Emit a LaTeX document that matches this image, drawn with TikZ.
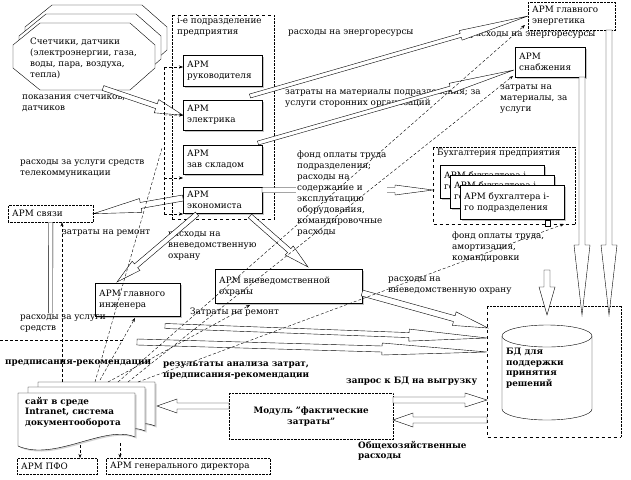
\documentclass[tikz,border=0pt]{standalone}
\usepackage{fontspec}
\setmainfont{DejaVu Serif}
\usetikzlibrary{calc,arrows.meta,shadows}

\tikzset{
  bw/.store in=\bkw, bh/.store in=\bkh, bl/.store in=\bkl,
  bw=2.5pt, bh=6pt, bl=25pt,
  blk/.style={draw, fill=white, line join=miter,
    to path={($(\tikztotarget)!\bkl!(\tikztostart)$) coordinate (hb)
      ($(\tikztostart)!\bkw!90:(\tikztotarget)$)
      -- ($(hb)!\bkw!90:(\tikztotarget)$)
      -- ($(hb)!\bkh!90:(\tikztotarget)$)
      -- (\tikztotarget)
      -- ($(hb)!\bkh!-90:(\tikztotarget)$)
      -- ($(hb)!\bkw!-90:(\tikztotarget)$)
      -- ($(\tikztostart)!\bkw!-90:(\tikztotarget)$)
      -- cycle}},
}

\begin{document}
\begin{tikzpicture}[x=1pt, y=-1pt,
    every node/.style={font=\fontsize{8.8}{11}\selectfont},
    arm/.style={draw, fill=white, anchor=north west, align=left,
      inner xsep=4pt, inner ysep=1pt},
    armS/.style={arm, drop shadow={shadow xshift=1.5pt,
        shadow yshift=-1.5pt, fill=black!45}},
    armD/.style={arm, densely dotted},
    lbl/.style={anchor=north west, align=left, inner sep=0pt},
    blbl/.style={lbl, font=\fontsize{8.8}{10.5}\selectfont\bfseries},
    rec/.style={dash pattern=on 3pt off 2pt,
      -{Stealth[length=4pt, width=3pt]}},
    recl/.style={dash pattern=on 3pt off 2pt}]
  \useasboundingbox (0,0) rectangle (631,479);

  % counters and sensors
  \foreach \dx/\dy in {12/-18, 6/-9, 0/0}{
    \draw[fill=white, shift={(\dx,\dy)}] (40,23) -- (130,23) -- (155,45)
      -- (155,68) -- (130,90) -- (40,90) -- (13,68) -- (13,45) -- cycle;
  }
  \node[lbl] (cnt) at (30,38) {Счетчики, датчики\\(электроэнергии, газа,\\воды, пара, воздуха,\\тепла)};
  \coordinate (cnt-out) at (103,88);

  % i-th department
  \node[anchor=north west, minimum width=102pt, minimum height=204pt,
        inner sep=0pt] (podr) at (172,15) {};
  \draw[dashed] (podr.north west) -- (podr.north east)
                (podr.south west) -- (podr.south east);
  \draw[densely dotted] (podr.north west) -- (podr.south west)
                        (podr.north east) -- (podr.south east);
  \node[lbl] (podr-t) at (177,17) {i-е подразделение\\предприятия};
  \node[armS, text width=71pt, minimum height=31pt] (ruk) at (183,55) {АРМ\\руководителя};
  \node[armS, text width=71pt, minimum height=30pt] (elek) at (183,100) {АРМ\\электрика};
  \node[armS, text width=71pt, minimum height=29pt] (sklad) at (183,145) {АРМ\\зав складом};
  \node[armS, text width=71pt, minimum height=26pt] (econ) at (183,187) {АРМ\\экономиста};

  % upper right
  \node[armD, text width=79pt, minimum height=28pt] (energ) at (528,2) {АРМ главного\\энергетика};
  \node[armS, text width=62pt, minimum height=30pt] (snab) at (515,47) {АРМ\\снабжения};

  % accounting
  \node[anchor=north west, minimum width=142pt, minimum height=77pt,
        inner sep=0pt] (buh) at (433,147) {};
  \draw[dashed] (buh.north west) -- (buh.south west) -- (buh.south east);
  \draw[densely dotted] (buh.north west) -- (buh.north east) -- (buh.south east);
  \node[lbl] (buh-t) at (437,149) {Бухгалтерия предприятия};
  \node[armS, text width=96pt, minimum height=33pt] (b1) at (440,165) {АРМ бухгалтера i-\\го подразделения};
  \node[armS, text width=96pt, minimum height=33pt] (b2) at (450,175) {АРМ бухгалтера i-\\го подразделения};
  \node[armS, text width=96pt, minimum height=34pt] (b3) at (460,185) {АРМ бухгалтера i-\\го подразделения};
  \draw[fill=white] (545,220) rectangle (550,226);

  % middle
  \node[armD, text width=77pt, minimum height=17pt] (svyaz) at (8,205) {АРМ связи};
  \node[armS, text width=77pt, minimum height=33pt] (inzh) at (95,283) {АРМ главного\\инженера};
  \node[armS, text width=139pt, minimum height=34pt] (okhr) at (215,269) {АРМ вневедомственной\\охраны};

  % database
  \node[anchor=north west, minimum width=134pt, minimum height=131pt,
        inner sep=0pt] (bdc) at (487,306) {};
  \draw[dashed] (bdc.north west) -- (bdc.south west) -- (bdc.south east);
  \draw[densely dotted] (bdc.north west) -- (bdc.north east) -- (bdc.south east);
  \draw[fill=white] (502,336) -- (502,409)
    arc[start angle=180, end angle=360, x radius=45pt, y radius=11pt] -- (592,336);
  \draw[fill=white] (547,336) ellipse [x radius=45pt, y radius=11pt];
  \node[blbl] (bdt) at (506,348) {БД для\\поддержки\\принятия\\решений};

  % site and module
  \foreach \dx/\dy in {20/-11, 10/-6, 0/0}{
    \draw[fill=white, shift={(\dx,\dy)},
          drop shadow={shadow xshift=1.5pt, shadow yshift=-1.5pt, fill=black!35}]
      (18,393) -- (135,393) -- (135,437)
      .. controls (105,424) and (55,462) .. (18,446) -- cycle;
  }
  \node[blbl] (site) at (25,397) {сайт в среде\\Intranet, система\\документооборота};
  \node[armD, text width=156pt, minimum height=46pt, align=center,
        font=\fontsize{8.8}{11}\selectfont\bfseries] (modul) at (229,393) {Модуль \symbol{34}фактические\\затраты\symbol{34}};
  \node[armD, text width=72pt, minimum height=16pt] (pfo) at (17,458) {АРМ ПФО};
  \node[armD, text width=156pt, minimum height=16pt] (gendir) at (106,458) {АРМ генерального директора};

  % labels
  \node[lbl] (l1) at (22,95) {показания счетчиков,\\датчиков};
  \node[lbl] (l2) at (288,30) {расходы на энергоресурсы};
  \node[lbl] (l3) at (470,32) {расходы на энергоресурсы};
  \node[lbl] (l4) at (285,90) {затраты на материалы подразделения; за\\услуги сторонних организаций};
  \node[lbl] (l5) at (500,85) {затраты на\\материалы, за\\услуги};
  \node[lbl] (l6) at (20,160) {расходы за услуги средств\\телекоммуникации};
  \node[lbl] (l8) at (62,230) {затраты на ремонт};
  \node[lbl] (l9) at (168,232) {расходы на\\вневедомственную\\охрану};
  \node[lbl] (l10) at (452,232) {фонд оплаты труда,\\амортизация,\\командировки};
  \node[lbl] (l11) at (388,277) {расходы на\\вневедомственную охрану};
  \node[lbl] (l12) at (190,308) {Затраты на ремонт};
  \node[lbl] (l13) at (20,315) {расходы за услуги\\средств};
  \node[blbl] (l14) at (5,360) {предписания-рекомендации};
  \node[blbl] (l15) at (163,362) {результаты анализа затрат,\\предписания-рекомендации};
  \node[blbl] (l16) at (346,377) {запрос к БД на выгрузку};
  \node[blbl] (l17) at (358,441) {Общехозяйственные\\расходы};

  % cost flows
  \coordinate (ruk-o) at (250,96);
  \coordinate (energ-i) at (528,16);
  \coordinate (sklad-o) at (258,143);
  \coordinate (snab-i) at (514,70);
  \coordinate (econ-r) at (262,190);
  \coordinate (buh-i) at (433,190);
  \coordinate (econ-l) at (183,198);
  \coordinate (econ-b1) at (197,214);
  \coordinate (inzh-i) at (117,282);
  \coordinate (econ-b2) at (250,216);
  \coordinate (okhr-i) at (308,267);
  \coordinate (energ-o) at (609,30);
  \coordinate (snab-o) at (582,77);
  \coordinate (buh-o) at (547,270);
  \coordinate (bd-e) at (609,315);
  \coordinate (bd-s) at (582,315);
  \coordinate (bd-b) at (547,315);
  \coordinate (okhr-o) at (362,293);
  \coordinate (bd-o) at (488,328);
  \coordinate (inzh-o) at (165,326);
  \coordinate (bd-i) at (487,338);
  \coordinate (sv-o) at (137,342);
  \coordinate (bd-v) at (487,352);
  \coordinate (sv-end) at (50.5,313);
  \coordinate (mod-l) at (229,406);
  \coordinate (site-i) at (157,406);
  \coordinate (mod-r) at (393,400);
  \coordinate (bd-q) at (487,400);
  \coordinate (bd-r) at (487,420);
  \coordinate (mod-q) at (393,420);

  \draw[blk, bw=2.5pt, bh=7pt, bl=28pt] (cnt-out) to (elek.west);
  \draw[blk, bw=2pt, bh=5pt, bl=70pt] (ruk-o) to (energ-i);
  \draw[blk, bw=2pt, bh=5pt, bl=66pt] (sklad-o) to (snab-i);
  \draw[blk, bw=2.5pt, bh=5pt, bl=38pt] (econ-r) to (buh-i);
  \draw[blk, bw=3pt, bh=7pt, bl=48pt] (econ-l) to (svyaz.east);
  \draw[blk, bw=2.5pt, bh=6pt, bl=25pt] (econ-b1) to (inzh-i);
  \draw[blk, bw=2.5pt, bh=6pt, bl=25pt] (econ-b2) to (okhr-i);
  \draw[blk, bw=3pt, bh=8pt, bl=70pt] (energ-o) to (bd-e);
  \draw[blk, bw=3pt, bh=8pt, bl=70pt] (snab-o) to (bd-s);
  \draw[blk, bw=3pt, bh=8pt, bl=28pt] (buh-o) to (bd-b);
  \draw[blk, bw=3pt, bh=7pt, bl=35pt] (okhr-o) to (bd-o);
  \draw[blk, bw=2.5pt, bh=6pt, bl=78pt] (inzh-o) to (bd-i);
  \draw[blk, bw=3pt, bh=6pt, bl=105pt] (sv-o) to (bd-v);
  \draw[double, double distance=4pt] (svyaz.south) -- (sv-end);
  \draw[blk, bw=3pt, bh=7pt, bl=20pt] (mod-l) to (site-i);
  \draw[blk, bw=3pt, bh=7pt, bl=22pt] (mod-r) to (bd-q);
  \draw[blk, bw=3pt, bh=7pt, bl=20pt] (bd-r) to (mod-q);
  \node[lbl, fill=white, inner sep=1pt] (l7) at (296,150) {фонд оплаты труда\\подразделения;\\расходы на\\содержание и\\эксплуатацию\\оборудования,\\командировочные\\расходы};

  % recommendations
  \coordinate (s1) at (62,382);
  \coordinate (s2) at (95,382);
  \coordinate (s3) at (100,380);
  \coordinate (s4) at (108,382);
  \coordinate (s5) at (118,382);
  \coordinate (s6) at (128,382);
  \coordinate (s7) at (138,382);
  \coordinate (br-t) at (164,67);
  \coordinate (br-e) at (164,115);
  \coordinate (br-s) at (164,178);
  \coordinate (br-m) at (162,148);
  \coordinate (br-b) at (164,214);
  \coordinate (energ-r) at (525,25);
  \coordinate (snab-r) at (513,76);
  \coordinate (buh-r) at (564,224);
  \coordinate (okhr-r) at (250,305);
  \coordinate (inzh-r) at (135,318);
  \coordinate (d1) at (80,445);
  \coordinate (d2) at (120,443);
  \coordinate (h1) at (0,340);
  \coordinate (h2) at (123,340);
  \draw[recl] (br-t) -- (br-b);
  \draw[rec] (br-t) -- (br-t -| ruk.west);
  \draw[rec] (br-e) -- (elek.west);
  \draw[rec] (br-s) -- (br-s -| sklad.west);
  \draw[rec] (br-b) -- (br-b -| econ.west);
  \draw[recl] (s2) -- (br-m);
  \draw[rec] (s1) -- (s1 |- svyaz.south);
  \draw[rec] (s3) -- (inzh-r);
  \draw[rec] (s4) -- (okhr-r);
  \draw[rec] (s5) -- (energ-r);
  \draw[rec] (s6) -- (snab-r);
  \draw[rec] (s7) -- (buh-r);
  \draw[rec] (d1) -- (d1 |- pfo.north);
  \draw[rec] (d2) -- (d2 |- gendir.north);
  \draw[recl] (h1) -- (h2);
\end{tikzpicture}
\end{document}
